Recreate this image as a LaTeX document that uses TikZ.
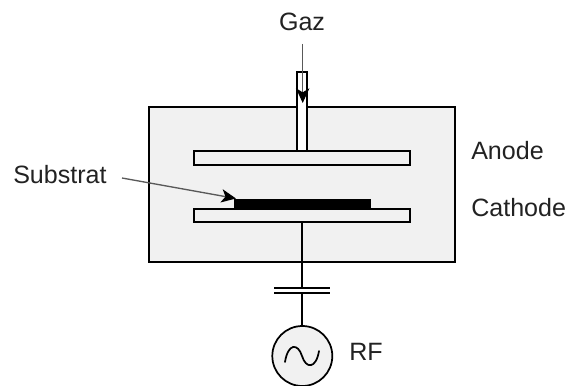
\documentclass[tikz,border=0pt]{standalone}
\usepackage{fontspec}
\setmainfont{Liberation Sans}
\usetikzlibrary{arrows.meta}
\definecolor{boxgray}{HTML}{F1F1F1}
\definecolor{txt}{HTML}{222222}
\tikzset{
  px/.style={x=0.75pt,y=-0.75pt},
  wire/.style={draw=black,line width=1.3pt},
  plate/.style={draw=black,line width=1.3pt,fill=boxgray},
  label/.style={font=\fontsize{18.8}{22}\selectfont,text=txt,inner sep=0pt},
  leftlabel/.style={label,anchor=west},
  ptr/.style={draw=black!65,line width=1pt,-{Stealth[length=11pt,width=10pt,inset=3pt,color=black]}}
}
\begin{document}
\begin{tikzpicture}[px]
\useasboundingbox (0,0) rectangle (566,385);
\draw[plate] (149,107.3) rectangle (455,261.7);
\draw[wire,fill=white] (297.3,72) rectangle (307.3,150.7);
\draw[plate] (194,150.7) rectangle (410,165);
\draw[plate] (194,209.3) rectangle (410,222.3);
\node[draw=black,fill=black,line width=0.5pt,minimum width=102pt,minimum height=7pt,inner sep=0pt,anchor=south west] (sub) at (234.3,209.3) {};
\node[label] (gaz) at (302,22) {Gaz};
\node[leftlabel] (anode) at (471,151) {Anode};
\node[leftlabel] (cathode) at (471,208) {Cathode};
\node[leftlabel] (substrat) at (13,175) {Substrat};
\node[leftlabel] (rf) at (349,352) {RF};
\node[circle,draw=black,line width=1.3pt,fill=boxgray,minimum size=45pt,inner sep=0pt] (gen) at (302.3,356) {};
\coordinate (gastip) at (302.7,103);
\coordinate (gastail) at (302.7,44);
\coordinate (cathbot) at (302.3,222.3);
\coordinate (captop) at (302.3,288);
\coordinate (capbot) at (302.3,293);
\coordinate (subtip) at (236,198.5);
\coordinate (subtail) at (122,178);
\draw[ptr] (gastail) -- (gastip);
\draw[ptr] (subtail) -- (subtip);
\draw[wire] (cathbot) -- (captop);
\draw[wire] (274,288) -- (330,288);
\draw[wire] (274,293) -- (330,293);
\draw[wire] (capbot) -- (gen.north);
\draw[line width=1.3pt,line cap=round] (285,362) .. controls (288,343) and (298,343) .. (302,356) .. controls (306,369) and (316,369) .. (319,351);
\end{tikzpicture}
\end{document}
